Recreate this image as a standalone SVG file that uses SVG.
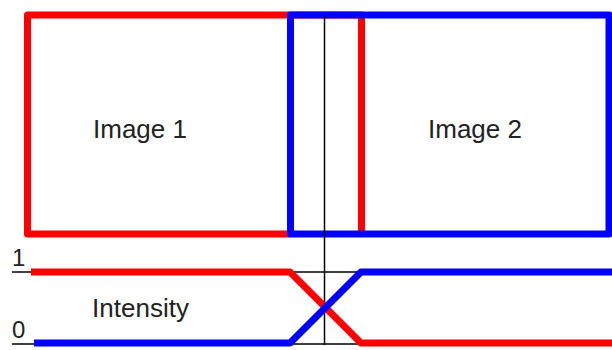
<svg xmlns="http://www.w3.org/2000/svg" width="612" height="350" viewBox="0 0 612 350">
<style>
.red{fill:none;stroke:#ff0000;stroke-width:7;stroke-linejoin:round}
.blue{fill:none;stroke:#0000ff;stroke-width:7;stroke-linejoin:round}
.blk{fill:none;stroke:#000;stroke-width:1.5}
.t{font-family:"Liberation Sans",Arial,sans-serif;font-size:26px;fill:#222}
.n{font-family:"Liberation Sans",Arial,sans-serif;font-size:24px;fill:#222}
</style>
<g id="image1">
<path class="red" d="M290.5,234 L27.5,234 L27.5,15 L361.5,15 L361.5,234"/>
<text class="t" x="140" y="138" text-anchor="middle">Image 1</text>
</g>
<g id="image2">
<rect class="blue" x="290.5" y="15" width="318.5" height="219"/>
<text class="t" x="475" y="138" text-anchor="middle">Image 2</text>
</g>
<g id="connectors">
<line class="blk" x1="324.5" y1="15" x2="324.5" y2="345"/>
<line class="blk" x1="290" y1="272" x2="361" y2="272"/>
<line class="blk" x1="290" y1="344" x2="361" y2="344"/>
<line class="blk" x1="12" y1="272" x2="31" y2="272"/>
<line class="blk" x1="12" y1="344" x2="34" y2="344"/>
<path class="red" d="M31,272 L290,272 L361,343 L612,343"/>
<path class="blue" d="M34,343 L290,343 L361,272 L612,272"/>
</g>
<g id="labels">
<text class="n" x="12" y="266">1</text>
<text class="n" x="12" y="338">0</text>
<text class="t" x="140.5" y="317" text-anchor="middle">Intensity</text>
</g>
</svg>
